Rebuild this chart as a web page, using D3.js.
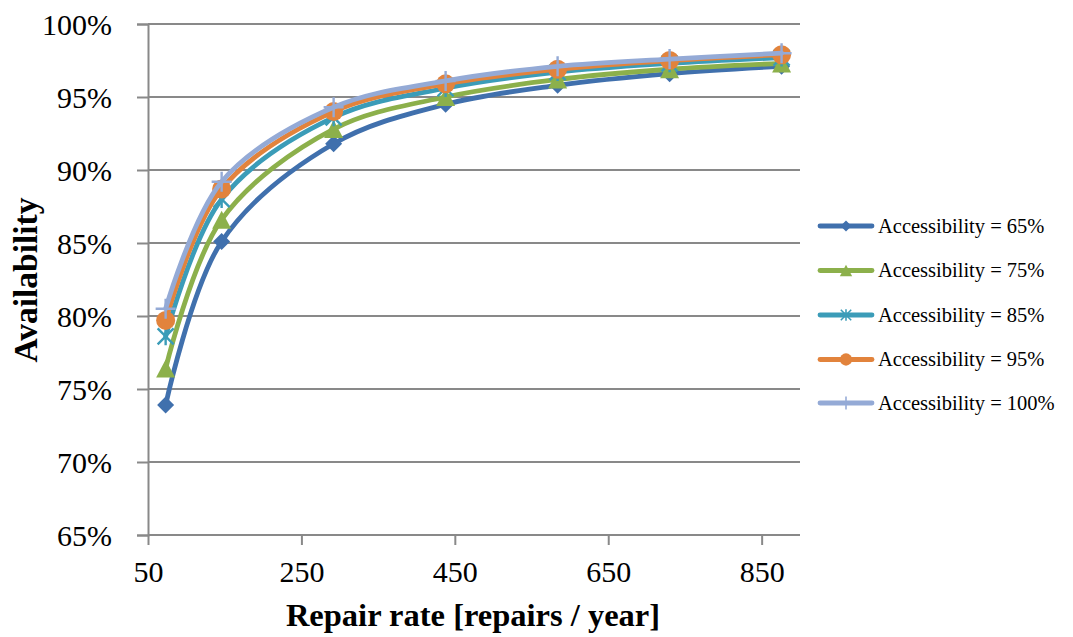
<!DOCTYPE html>
<html>
<head>
<meta charset="utf-8">
<script src="https://d3js.org/d3.v7.min.js"></script>
<style>
  html, body { margin: 0; padding: 0; background: #fff; }
  svg { display: block; }
  text { font-family: "Palatino Linotype", "Book Antiqua", Palatino, "Liberation Serif", serif; fill: #000; }
</style>
</head>
<body>
<svg id="chart" width="1073" height="637"></svg>
<script>
// Repair rate (repairs / year) at which availability was evaluated
const repairRates = [73, 146, 292, 438, 584, 730, 876];

// Availability (%) per accessibility level
const acc65  = [73.9, 85.1, 91.8, 94.5, 95.8, 96.6, 97.1];
const acc75  = [76.4, 86.6, 92.8, 95.0, 96.2, 96.9, 97.3];
const acc85  = [78.6, 88.0, 93.6, 95.6, 96.7, 97.3, 97.7];
const acc95  = [79.7, 88.7, 94.0, 95.9, 96.9, 97.5, 97.9];
const acc100 = [80.5, 89.2, 94.3, 96.1, 97.1, 97.6, 98.0];

const seriesNames = ["Accessibility = 65%", "Accessibility = 75%", "Accessibility = 85%",
                     "Accessibility = 95%", "Accessibility = 100%"];
const seriesValues = [acc65, acc75, acc85, acc95, acc100];
const seriesColors = ["#4070ad", "#8cb04b", "#3b9cb8", "#e2833c", "#94aad6"];
const seriesMarkers = ["diamond", "triangle", "star", "circle", "plus"];

const xTicks = [50, 250, 450, 650, 850];
const yTicks = [65, 70, 75, 80, 85, 90, 95, 100];

const svg = d3.select("#chart");
const gridColor = "#898989";
const fontStack = "\"Palatino Linotype\", \"Book Antiqua\", Palatino, \"Liberation Serif\", serif";

const x = d3.scaleLinear().domain([50, 900]).range([148, 800]);
const y = d3.scaleLinear().domain([65, 100]).range([535, 24]);

// horizontal gridlines
svg.append("g").selectAll("line").data(yTicks.filter(d => d > 65)).join("line")
  .attr("x1", x(50)).attr("x2", x(900))
  .attr("y1", d => y(d)).attr("y2", d => y(d))
  .attr("stroke", gridColor).attr("stroke-width", 2);

// y axis
const yAxis = svg.append("g").attr("transform", `translate(${x(50)},0)`)
  .call(d3.axisLeft(y).tickValues(yTicks).tickSize(11).tickPadding(25).tickFormat(d => d + "%"));
yAxis.select(".domain").attr("stroke", gridColor).attr("stroke-width", 2);
yAxis.selectAll(".tick line").attr("stroke", gridColor).attr("stroke-width", 2);
yAxis.selectAll(".tick text")
  .style("font-family", fontStack)
  .style("font-size", "30px").attr("fill", "#000").attr("dy", "0.34em");

// x axis
const xAxis = svg.append("g").attr("transform", `translate(0,${y(65)})`)
  .call(d3.axisBottom(x).tickValues(xTicks).tickSize(10).tickPadding(22).tickFormat(d3.format("d")));
xAxis.select(".domain").attr("stroke", gridColor).attr("stroke-width", 2)
  .attr("d", `M${x(50)},0H${x(900)}`);
xAxis.selectAll(".tick line").attr("stroke", gridColor).attr("stroke-width", 2);
xAxis.selectAll(".tick text")
  .style("font-family", fontStack)
  .style("font-size", "30px").attr("fill", "#000").attr("dy", "0.5em");

// axis titles
svg.append("text")
  .attr("transform", "translate(37,280) rotate(-90)")
  .attr("text-anchor", "middle")
  .style("font-size", "33.5px").style("font-weight", "bold")
  .text("Availability");

svg.append("text")
  .attr("x", 473).attr("y", 626)
  .attr("text-anchor", "middle")
  .style("font-size", "32.5px").style("font-weight", "bold")
  .text("Repair rate [repairs / year]");

// marker drawing
function drawMarker(g, type, color, scale) {
  const s = scale || 1;
  if (type === "diamond") {
    const r = 8.5 * s;
    g.append("path").attr("d", `M0,${-r}L${r},0L0,${r}L${-r},0Z`).attr("fill", color);
  } else if (type === "triangle") {
    const w = 9.5 * s, h = 9 * s;
    g.append("path").attr("d", `M0,${-h}L${w},${h}L${-w},${h}Z`).attr("fill", color);
  } else if (type === "circle") {
    g.append("circle").attr("r", 9.5 * s).attr("fill", color);
  } else if (type === "star") {
    const r = 8 * s;
    const d = `M${-r},${-r}L${r},${r}M${-r},${r}L${r},${-r}M0,${-r * 1.1}L0,${r * 1.1}`;
    g.append("path").attr("d", d).attr("stroke", color).attr("stroke-width", 2.4 * s).attr("fill", "none");
  } else if (type === "plus") {
    const r = 10 * s;
    g.append("path").attr("d", `M${-r},0L${r},0M0,${-r}L0,${r}`)
      .attr("stroke", color).attr("stroke-width", 2.4 * s).attr("fill", "none");
  }
}

const line = d3.line()
  .x((d, i) => x(repairRates[i]))
  .y(d => y(d))
  .curve(d3.curveCatmullRom.alpha(0.5));

// series, each line with its markers, drawn in order
seriesValues.forEach((vals, si) => {
  const g = svg.append("g");
  g.append("path").attr("d", line(vals))
    .attr("fill", "none").attr("stroke", seriesColors[si])
    .attr("stroke-width", 4.8).attr("stroke-linecap", "round").attr("stroke-linejoin", "round");
  vals.forEach((v, i) => {
    const mg = g.append("g").attr("transform", `translate(${x(repairRates[i])},${y(v)})`);
    drawMarker(mg, seriesMarkers[si], seriesColors[si]);
  });
});

// legend
const legendRows = [226, 270.5, 315, 359.5, 403];
seriesNames.forEach((name, si) => {
  const g = svg.append("g").attr("transform", `translate(0,${legendRows[si]})`);
  g.append("line").attr("x1", 820).attr("x2", 872).attr("y1", 0).attr("y2", 0)
    .attr("stroke", seriesColors[si]).attr("stroke-width", 4.8).attr("stroke-linecap", "round");
  const mg = g.append("g").attr("transform", "translate(846,0)");
  drawMarker(mg, seriesMarkers[si], seriesColors[si], 0.65);
  g.append("text").attr("x", 878).attr("y", 0).attr("dy", "0.33em")
    .style("font-size", "20.5px")
    .text(name);
});
</script>
</body>
</html>
